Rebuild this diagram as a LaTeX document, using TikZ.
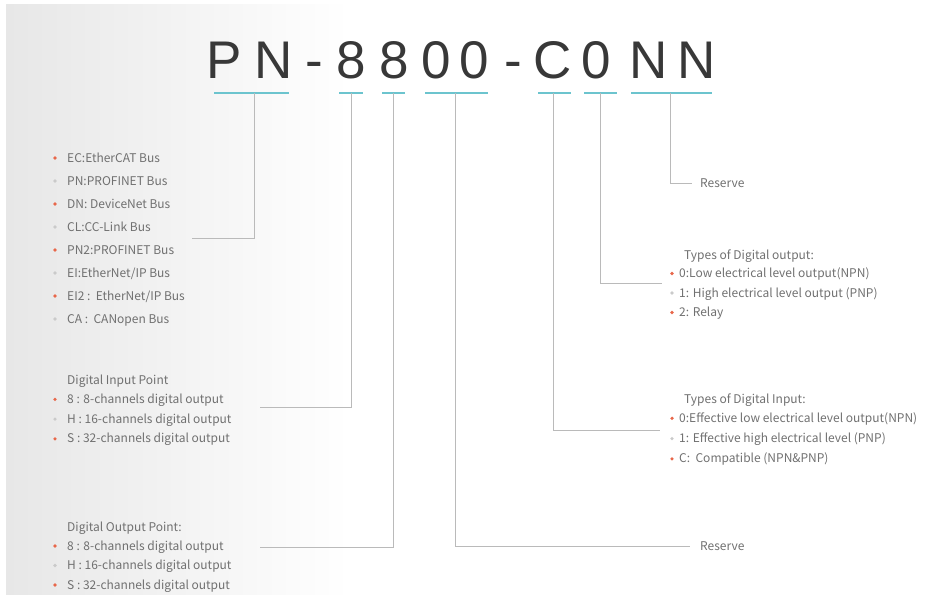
\documentclass[tikz,border=0pt]{standalone}
\usepackage{fontspec}
\setmainfont{Noto Sans CJK SC}
\newfontfamily\titlefont{Liberation Sans}
\usetikzlibrary{positioning}

\definecolor{panel}{HTML}{E7E7E7}
\definecolor{linegray}{HTML}{BABABA}
\definecolor{txtgray}{HTML}{707070}
\definecolor{titlegray}{HTML}{383838}
\definecolor{ucyan}{HTML}{6CC4CE}
\definecolor{dotred}{HTML}{E8674A}
\definecolor{dotgray}{HTML}{CACACA}

\tikzset{
  titlechar/.style={anchor=base, inner sep=0pt, text=titlegray,
    font=\titlefont\fontsize{53}{53}\selectfont},
  item/.style={anchor=base west, inner sep=0pt, text=txtgray,
    font=\fontsize{12}{14}\selectfont},
  lead/.style={draw=linegray, line width=1pt},
  uline/.style={draw=ucyan, line width=2pt},
  dot/.style={circle, inner sep=0pt, minimum size=3.6pt}
}

\begin{document}
\begin{tikzpicture}[x=1pt,y=-1pt]
    \useasboundingbox (0,0) rectangle (928,594);
    \shade[left color=panel, right color=white] (6,5) rectangle (350,594);

    % part number
    \foreach \ch/\x [count=\i] in {P/224.5,N/273.5,-/314,8/351,8/394,0/436.5,
        0/474.5,-/513,C/553,0/596.5,N/648.5,N/696.5}
      \node[titlechar] (t\i) at (\x,78) {\ch};
    \foreach \a/\b in {214/289,339/363,382/405,425/488,538/571,584/617,631/712}
      \draw[uline] (\a,93) -- (\b,93);

    \coordinate (pn) at (254,93);
    \coordinate (inpt) at (351,93);
    \coordinate (outpt) at (393,93);
    \coordinate (res) at (455,93);
    \coordinate (dity) at (553,93);
    \coordinate (doty) at (600,93);
    \coordinate (nn) at (670,93);

    % bus types
    \foreach \txt [count=\i] in {EC:EtherCAT Bus, PN:PROFINET Bus,
        DN: DeviceNet Bus, CL:CC-Link Bus, PN2:PROFINET Bus,
        {EI:EtherNet/IP Bus}, {EI2 :\ \ EtherNet/IP Bus}, CA :\ \ CANopen Bus} {
      \ifodd\i \def\dc{dotred}\else \def\dc{dotgray}\fi
      \node[dot, fill=\dc] (busdot\i) at (55,135+23*\i) {};
      \node[item] (bus\i) at (67,139+23*\i) {\txt};
    }
    \coordinate (pnend) at (192,238);

    % digital input / output points
    \node[item] (dinhead) at (67,384) {Digital Input Point};
    \node[item] (douthead) at (67,531) {Digital Output Point:};
    \foreach \txt [count=\i] in {8 : 8-channels digital output,
        H : 16-channels digital output, S : 32-channels digital output} {
      \ifodd\i \def\dc{dotred}\else \def\dc{dotgray}\fi
      \node[dot, fill=\dc] (dindot\i) at (55,379.5+19.8*\i) {};
      \node[item] (din\i) at (67,383.5+19.8*\i) {\txt};
      \node[dot, fill=\dc] (doutdot\i) at (55,526.5+19.5*\i) {};
      \node[item] (dout\i) at (67,530.5+19.5*\i) {\txt};
    }
    \coordinate (inend) at (260,407);
    \coordinate (outend) at (260,547);

    % digital output types
    \node[item] (touthead) at (684,259) {Types of Digital output:};
    \foreach \txt [count=\i] in {0:Low electrical level output(NPN),
        1: High electrical level output (PNP), 2: Relay} {
      \ifodd\i \def\dc{dotred}\else \def\dc{dotgray}\fi
      \node[dot, fill=\dc] (toutdot\i) at (672,254+19.5*\i) {};
      \node[item] (tout\i) at (679,258+19.5*\i) {\txt};
    }
    \coordinate (doend) at (662,283);

    % digital input types
    \node[item] (tinhead) at (684,403) {Types of Digital Input:};
    \foreach \txt [count=\i] in {0:Effective low electrical level output(NPN),
        1: Effective high electrical level (PNP), C:\ \ Compatible (NPN\&PNP)} {
      \ifodd\i \def\dc{dotred}\else \def\dc{dotgray}\fi
      \node[dot, fill=\dc] (tindot\i) at (672,398+20.3*\i) {};
      \node[item] (tin\i) at (679,402+20.3*\i) {\txt};
    }
    \coordinate (diend) at (660,430);

    % reserve
    \node[item, anchor=west] (restop) at (700,183) {Reserve};
    \node[item, anchor=west] (resbot) at (700,546) {Reserve};

    \draw[lead] (pn) |- (pnend);
    \draw[lead] (inpt) |- (inend);
    \draw[lead] (outpt) |- (outend);
    \draw[lead] (res) |- ([xshift=-10pt]resbot.west);
    \draw[lead] (dity) |- (diend);
    \draw[lead] (doty) |- (doend);
    \draw[lead] (nn) |- ([xshift=-8pt]restop.west);
\end{tikzpicture}
\end{document}
